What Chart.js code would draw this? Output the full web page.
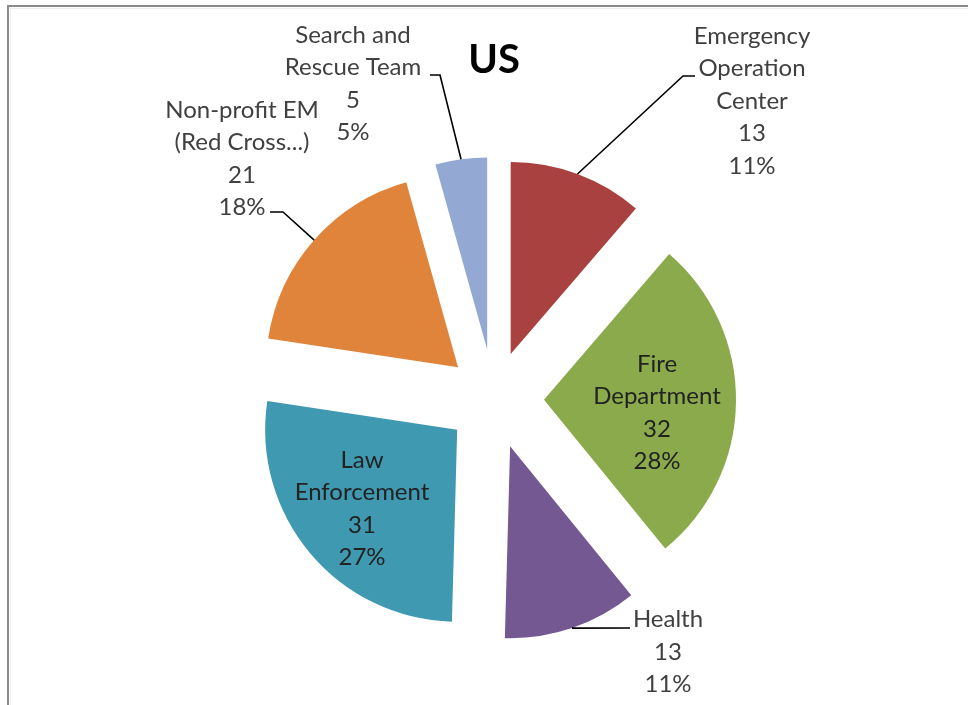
<!DOCTYPE html>
<html>
<head>
<meta charset="utf-8">
<script src="https://cdn.jsdelivr.net/npm/chart.js@4.4.1/dist/chart.umd.min.js"></script>
<style>
  html, body { margin: 0; padding: 0; background: #fff; overflow: hidden; }
  #wrap { position: relative; width: 968px; height: 705px; }
  /* grey frame of the original screenshot (only top and left edges are visible) */
  #frame { position: absolute; left: 7px; top: 5px; right: 0; bottom: 0; border-left: 2px solid #8a8a8a; border-top: 2px solid #8a8a8a; pointer-events: none; }
  #frame2 { position: absolute; left: 10px; top: 8px; right: 0; bottom: 0; border-left: 1px solid #ececec; border-top: 1px solid #ececec; pointer-events: none; }
</style>
</head>
<body>
<div id="wrap">
  <canvas id="diagram"></canvas>
  <div id="frame"></div>
  <div id="frame2"></div>
</div>
<script>
// DATA
const title = 'US';
const categories = [
  ['Emergency', 'Operation', 'Center'],
  ['Fire', 'Department'],
  ['Health'],
  ['Law', 'Enforcement'],
  ['Non-profit EM', '(Red Cross...)'],
  ['Search and', 'Rescue Team'],
];
const counts = [13, 32, 13, 31, 21, 5];
const shares = [11, 28, 11, 27, 18, 5]; // percent labels as printed

// STYLE
const colors = ['#a8413f', '#8aaa4c', '#735891', '#3f99b1', '#e0843b', '#93a9d4'];
const explode = [48, 50, 50, 48, 48, 50]; // px each slice is pulled out
const FONT = 'Lato, "Open Sans", sans-serif';
const LINE_H = 32.5;

// label block centre + leader line, relative to the pie centre
const placement = [
  { at: [258, -298], elbow: [189, -323], end: [201, -323] },
  { at: [163, 14], inside: true },
  { at: [174, 253], elbow: [136, 229], end: [136, 229] },
  { at: [-132, 110], inside: true },
  { at: [-252, -240], elbow: [-211, -187], end: [-224, -187] },
  { at: [-141, -315], elbow: [-54, -324], end: [-64, -324] },
];

// pulls every arc out along its mid angle (keeps the radius unchanged)
const explodePlugin = {
  id: 'explode',
  afterDatasetUpdate(chart, args) {
    args.meta.data.forEach((arc, i) => {
      const mid = (arc.startAngle + arc.endAngle) / 2;
      arc.x += Math.cos(mid) * explode[i];
      arc.y += Math.sin(mid) * explode[i];
    });
  },
};

const labelPlugin = {
  id: 'sliceLabels',
  afterDatasetsDraw(chart) {
    const { ctx, chartArea } = chart;
    const cx = (chartArea.left + chartArea.right) / 2;
    const cy = (chartArea.top + chartArea.bottom) / 2;
    const arcs = chart.getDatasetMeta(0).data;

    ctx.save();
    ctx.textAlign = 'center';
    ctx.textBaseline = 'middle';

    // title
    ctx.font = 'bold 40px ' + FONT;
    ctx.fillStyle = '#000';
    ctx.fillText(title, cx, 60);

    arcs.forEach((arc, i) => {
      const p = placement[i];
      if (p.elbow) {
        const mid = (arc.startAngle + arc.endAngle) / 2;
        const r = arc.outerRadius;
        ctx.beginPath();
        ctx.moveTo(arc.x + Math.cos(mid) * r, arc.y + Math.sin(mid) * r);
        ctx.lineTo(cx + p.elbow[0], cy + p.elbow[1]);
        ctx.lineTo(cx + p.end[0], cy + p.end[1]);
        ctx.strokeStyle = '#000';
        ctx.lineWidth = 1.6;
        ctx.stroke();
      }
      const lines = [...categories[i], String(counts[i]), shares[i] + '%'];
      ctx.font = '24px ' + FONT;
      ctx.fillStyle = p.inside ? '#222' : '#404040';
      const top = cy + p.at[1] - ((lines.length - 1) * LINE_H) / 2;
      lines.forEach((t, k) => ctx.fillText(t, cx + p.at[0], top + k * LINE_H));
    });
    ctx.restore();
  },
};

new Chart(document.getElementById('diagram'), {
  type: 'pie',
  data: {
    labels: categories.map(l => l.join(' ')),
    datasets: [
      {
        data: counts,
        backgroundColor: colors,
        borderWidth: 0,
        radius: 192,
      },
    ],
  },
  options: {
    responsive: true,
    maintainAspectRatio: false,
    animation: false,
    events: [],
    layout: { padding: { left: 20, right: 0, top: 93, bottom: 0 } }, // puts the pie centre at (494, 399)
    plugins: {
      legend: { display: false },
      tooltip: { enabled: false },
    },
  },
  plugins: [explodePlugin, labelPlugin],
});
</script>
</body>
</html>
